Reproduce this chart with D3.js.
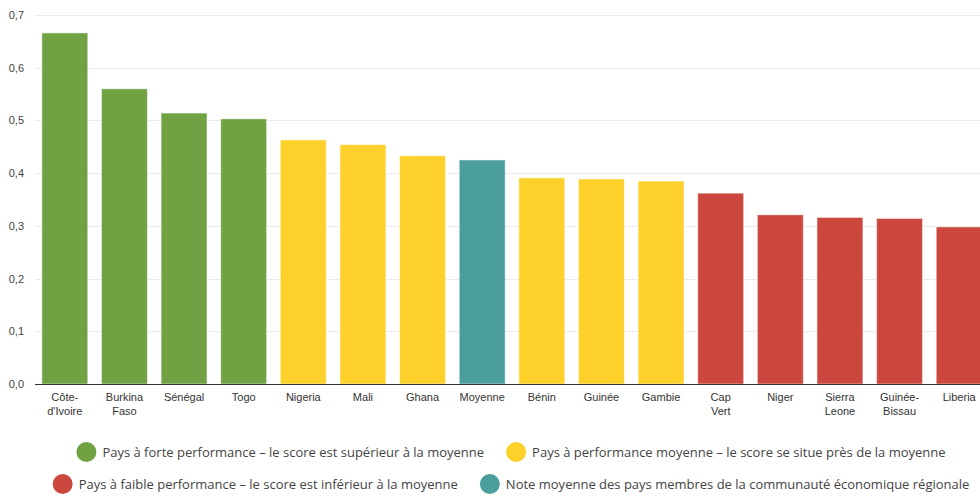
<!DOCTYPE html>
<html>
<head>
<meta charset="utf-8">
<script src="https://cdn.jsdelivr.net/npm/d3@7"></script>
<style>
  body { margin: 0; background: #fff; }
  svg { display: block; font-family: "Open Sans", sans-serif; }
  .ax { font-family: "Liberation Sans", Arial, sans-serif; }
</style>
</head>
<body>
<script>
var countries = ["Côte-d'Ivoire", "Burkina Faso", "Sénégal", "Togo", "Nigeria", "Mali", "Ghana", "Moyenne",
  "Bénin", "Guinée", "Gambie", "Cap Vert", "Niger", "Sierra Leone", "Guinée-Bissau", "Liberia"];
var labelLines = [["Côte-", "d'Ivoire"], ["Burkina", "Faso"], ["Sénégal"], ["Togo"], ["Nigeria"], ["Mali"], ["Ghana"], ["Moyenne"],
  ["Bénin"], ["Guinée"], ["Gambie"], ["Cap", "Vert"], ["Niger"], ["Sierra", "Leone"], ["Guinée-", "Bissau"], ["Liberia"]];
var scores = [0.666, 0.560, 0.514, 0.503, 0.463, 0.454, 0.433, 0.425, 0.391, 0.389, 0.385, 0.362, 0.321, 0.316, 0.314, 0.298];
var groups = ["forte", "forte", "forte", "forte", "moyenne", "moyenne", "moyenne", "note",
  "moyenne", "moyenne", "moyenne", "faible", "faible", "faible", "faible", "faible"];
var yTicks = [0, 0.1, 0.2, 0.3, 0.4, 0.5, 0.6, 0.7];

var colors = {forte: "#70a243", moyenne: "#fdd02a", faible: "#cc473d", note: "#4a9e9c"};
var legendRows = [
  [{g: "forte", t: "Pays à forte performance – le score est supérieur à la moyenne"},
   {g: "moyenne", t: "Pays à performance moyenne – le score se situe près de la moyenne"}],
  [{g: "faible", t: "Pays à faible performance – le score est inférieur à la moyenne"},
   {g: "note", t: "Note moyenne des pays membres de la communauté économique régionale"}]
];

var w = 980, h = 496;
var plotLeft = 35, plotRight = 989, plotTop = 15, plotBottom = 384;

var svg = d3.select("body").append("svg")
  .attr("width", w)
  .attr("height", h);

var x = d3.scaleBand().domain(countries).range([plotLeft, plotRight]).paddingInner(0.23).paddingOuter(0.115);
var y = d3.scaleLinear().domain([0, 0.7]).range([plotBottom, plotTop]);

// grid
svg.append("g").selectAll("line")
  .data(yTicks.slice(1))
  .enter().append("line")
  .attr("x1", plotLeft).attr("x2", w)
  .attr("y1", function (d) { return Math.round(y(d)) + 0.5; })
  .attr("y2", function (d) { return Math.round(y(d)) + 0.5; })
  .attr("stroke", "#ebebeb");

// y labels
svg.append("g").attr("class", "ax").selectAll("text")
  .data(yTicks)
  .enter().append("text")
  .attr("x", 24).attr("y", function (d) { return y(d) + 4; })
  .attr("text-anchor", "end")
  .attr("fill", "#444")
  .style("font-size", "11px")
  .text(function (d) { return d.toFixed(1).replace(".", ","); });

// bars
svg.append("g").selectAll("rect")
  .data(scores)
  .enter().append("rect")
  .attr("x", function (d, i) { return x(countries[i]); })
  .attr("y", function (d) { return y(d); })
  .attr("width", x.bandwidth())
  .attr("height", function (d) { return plotBottom - y(d); })
  .attr("fill", function (d, i) { return colors[groups[i]]; })
  .attr("stroke", "#fff")
  .attr("stroke-opacity", 0.5)
  .attr("stroke-width", 1);

// baseline
svg.append("line")
  .attr("x1", plotLeft).attr("x2", w)
  .attr("y1", plotBottom + 0.5).attr("y2", plotBottom + 0.5)
  .attr("stroke", "#333");

// x labels
var xl = svg.append("g").attr("class", "ax").selectAll("text")
  .data(countries)
  .enter().append("text")
  .attr("text-anchor", "middle")
  .attr("fill", "#333")
  .style("font-size", "11px")
  .attr("transform", function (d) { return "translate(" + (x(d) + x.bandwidth() / 2) + "," + (plotBottom + 17) + ")"; });
xl.selectAll("tspan")
  .data(function (d, i) { return labelLines[i]; })
  .enter().append("tspan")
  .attr("x", 0)
  .attr("dy", function (d, i) { return i ? 14 : 0; })
  .text(function (d) { return d; });

// legend
var rowY = [452, 484];
legendRows.forEach(function (row, r) {
  var g = svg.append("g");
  var cx = 0;
  row.forEach(function (item, k) {
    var it = g.append("g").attr("transform", "translate(" + cx + ",0)");
    it.append("circle").attr("cx", 10).attr("cy", 0).attr("r", 10).attr("fill", colors[item.g]);
    var t = it.append("text").attr("x", 26).attr("y", 4.5)
      .attr("fill", "#444").style("font-size", "13px").text(item.t);
    cx += 26 + t.node().getComputedTextLength() + 22;
  });
  var total = cx - 22;
  g.attr("transform", "translate(" + (511 - total / 2) + "," + rowY[r] + ")");
});
</script>
</body>
</html>
